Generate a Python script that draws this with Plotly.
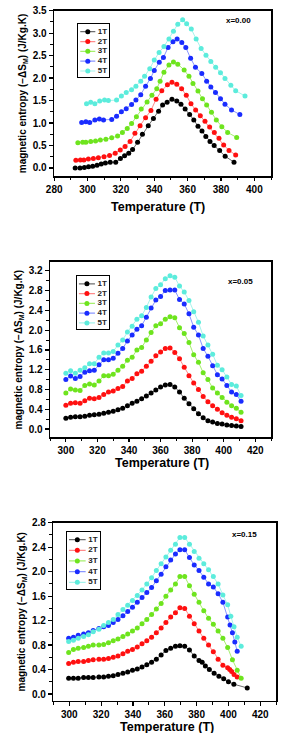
import plotly.graph_objects as go

W, H = 283, 733

series_names = ["1T", "2T", "3T", "4T", "5T"]
marker_colors = ["#000000", "#ff1010", "#6ee41e", "#1a2cff", "#5cecdc"]
line_colors = ["#6e6e6e", "#ff8a8a", "#a6ef6e", "#8a96ff", "#a6f4ec"]
panel_labels = ["x=0.00", "x=0.05", "x=0.15"]
x_title = "Temperature (T)"
y_title = "magnetic entropy (\u2212\u0394S<sub>M</sub>) (J/Kg.K)"

# ---------------- Panel 1 : x = 0.00 ----------------
p1_t_1T = [292.6, 295.5, 298.1, 300.6, 303.1, 305.7, 308.2, 310.7, 313.6, 316.9, 319.7, 322.2, 324.7, 327.0,
           330.0, 332.9, 336.4, 339.5, 342.6, 345.0, 347.7, 350.6, 353.5, 356.0, 358.5, 361.2, 363.7, 366.2,
           368.6, 370.9, 373.4, 375.9, 379.2, 382.5, 387.8]
p1_s_1T = [0.00, 0.00, 0.01, 0.03, 0.04, 0.06, 0.09, 0.11, 0.13, 0.13, 0.21, 0.27, 0.33, 0.41,
           0.57, 0.75, 0.94, 1.10, 1.26, 1.40, 1.46, 1.53, 1.49, 1.42, 1.31, 1.19, 1.07, 0.93,
           0.82, 0.70, 0.59, 0.50, 0.39, 0.26, 0.13]
p1_t_2T = [293.0, 295.7, 297.8, 300.5, 303.5, 306.5, 309.9, 313.2, 316.6, 319.6, 322.5, 325.5, 328.4, 331.5,
           334.8, 338.0, 341.1, 344.5, 347.9, 350.6, 353.5, 356.4, 359.2, 362.0, 364.8, 367.6, 370.4, 373.2,
           376.0, 378.8, 381.6, 384.8, 388.8]
p1_s_2T = [0.17, 0.18, 0.18, 0.20, 0.21, 0.23, 0.25, 0.28, 0.33, 0.40, 0.48, 0.59, 0.77, 0.94,
           1.12, 1.28, 1.53, 1.72, 1.85, 1.91, 1.86, 1.76, 1.62, 1.43, 1.29, 1.16, 1.04, 0.91,
           0.79, 0.66, 0.51, 0.39, 0.29]
p1_t_3T = [294.2, 297.1, 299.0, 301.9, 304.8, 307.7, 311.0, 314.5, 318.0, 320.9, 323.8, 326.4, 329.3, 332.2,
           335.7, 338.6, 341.5, 343.5, 345.8, 348.8, 351.5, 354.1, 357.9, 360.8, 363.2, 366.2, 368.9, 371.4,
           374.3, 377.2, 380.5, 384.0, 389.4]
p1_s_3T = [0.56, 0.57, 0.57, 0.59, 0.60, 0.62, 0.64, 0.67, 0.71, 0.79, 0.88, 0.99, 1.14, 1.31,
           1.47, 1.62, 1.76, 1.93, 2.13, 2.29, 2.36, 2.31, 2.18, 2.04, 1.88, 1.71, 1.54, 1.40,
           1.24, 1.07, 0.92, 0.79, 0.68]
p1_t_4T = [296.5, 299.0, 301.3, 304.4, 307.1, 309.6, 314.5, 317.4, 320.3, 323.2, 326.4, 329.0, 331.9, 334.8,
           337.7, 340.0, 343.0, 345.5, 348.3, 351.2, 353.7, 356.5, 358.9, 361.8, 364.7, 368.5, 371.4, 373.9,
           376.7, 379.7, 382.4, 386.3, 391.3]
p1_s_4T = [1.01, 1.03, 1.01, 1.07, 1.09, 1.07, 1.08, 1.15, 1.25, 1.32, 1.41, 1.51, 1.63, 1.82,
           1.99, 2.17, 2.35, 2.46, 2.68, 2.81, 2.87, 2.79, 2.68, 2.44, 2.24, 2.10, 1.93, 1.80,
           1.68, 1.54, 1.42, 1.29, 1.19]
p1_t_5T = [299.4, 301.9, 304.4, 307.3, 310.2, 312.5, 317.4, 320.3, 323.2, 326.4, 329.0, 331.9, 334.2, 337.3,
           340.0, 342.9, 345.8, 348.8, 351.5, 354.1, 357.0, 359.4, 362.2, 365.1, 368.1, 371.0, 373.9, 376.8,
           379.7, 382.4, 385.9, 388.8, 394.4]
p1_s_5T = [1.43, 1.46, 1.43, 1.49, 1.51, 1.50, 1.51, 1.60, 1.68, 1.74, 1.82, 1.93, 2.04, 2.21,
           2.40, 2.57, 2.70, 2.87, 3.04, 3.20, 3.30, 3.21, 3.09, 2.87, 2.66, 2.51, 2.37, 2.24,
           2.12, 1.99, 1.84, 1.72, 1.60]

# ---------------- Panel 2 : x = 0.05 ----------------
p2_t = [300, 303, 306, 309, 312, 315, 318, 321, 324, 327, 330, 333, 336, 339, 342, 345, 348, 351, 354,
        357, 360, 363, 366, 369, 372, 375, 378, 381, 384, 387, 390, 393, 396, 399, 402, 405, 408, 411]
p2_s_1T = [0.22, 0.24, 0.25, 0.25, 0.26, 0.28, 0.29, 0.30, 0.32, 0.34, 0.36, 0.39, 0.42, 0.47, 0.52, 0.56,
           0.61, 0.67, 0.73, 0.79, 0.85, 0.89, 0.90, 0.85, 0.75, 0.62, 0.51, 0.41, 0.31, 0.23, 0.17, 0.14,
           0.11, 0.10, 0.08, 0.07, 0.06, 0.05]
p2_s_2T = [0.48, 0.52, 0.53, 0.52, 0.57, 0.62, 0.61, 0.64, 0.70, 0.75, 0.77, 0.82, 0.86, 0.97, 1.02, 1.12,
           1.17, 1.27, 1.37, 1.48, 1.56, 1.63, 1.64, 1.55, 1.42, 1.25, 1.08, 0.93, 0.80, 0.66, 0.55, 0.47,
           0.40, 0.33, 0.28, 0.24, 0.21, 0.17]
p2_s_3T = [0.73, 0.81, 0.79, 0.78, 0.88, 0.91, 0.89, 0.97, 1.08, 1.08, 1.11, 1.19, 1.27, 1.39, 1.45, 1.60,
           1.65, 1.80, 1.95, 2.09, 2.13, 2.22, 2.27, 2.25, 2.05, 1.93, 1.75, 1.50, 1.35, 1.14, 1.00, 0.83,
           0.73, 0.64, 0.54, 0.47, 0.42, 0.34]
p2_s_4T = [1.00, 1.07, 1.02, 1.06, 1.15, 1.18, 1.19, 1.30, 1.40, 1.40, 1.43, 1.53, 1.63, 1.78, 1.90, 2.02,
           2.09, 2.26, 2.45, 2.61, 2.68, 2.80, 2.81, 2.81, 2.62, 2.53, 2.33, 2.06, 1.90, 1.63, 1.47, 1.28,
           1.10, 1.01, 0.88, 0.75, 0.70, 0.56]
p2_s_5T = [1.13, 1.18, 1.13, 1.19, 1.24, 1.32, 1.32, 1.45, 1.54, 1.54, 1.57, 1.70, 1.80, 1.96, 2.08, 2.22,
           2.29, 2.46, 2.67, 2.84, 2.92, 3.04, 3.10, 3.07, 2.89, 2.77, 2.60, 2.37, 2.16, 1.88, 1.70, 1.51,
           1.29, 1.20, 1.05, 0.90, 0.87, 0.68]

# ---------------- Panel 3 : x = 0.15 ----------------
p3_t_1T = [299.6, 302.6, 305.6, 309.0, 312.0, 315.0, 318.6, 321.6, 324.6, 327.6, 330.6, 333.7, 336.7, 339.7,
           342.7, 345.7, 348.7, 351.7, 354.7, 357.7, 360.7, 363.7, 366.7, 369.5, 372.5, 375.5, 378.5, 381.5,
           383.5, 385.5, 388.0, 391.0, 394.0, 397.0, 400.0, 403.4, 411.8]
p3_s_1T = [0.26, 0.26, 0.26, 0.27, 0.27, 0.27, 0.28, 0.28, 0.29, 0.30, 0.32, 0.34, 0.36, 0.39,
           0.41, 0.44, 0.48, 0.52, 0.57, 0.64, 0.71, 0.75, 0.78, 0.79, 0.78, 0.72, 0.62, 0.55,
           0.52, 0.46, 0.40, 0.34, 0.29, 0.25, 0.20, 0.16, 0.10]
p3_t_2T = [299.6, 302.6, 305.6, 309.0, 312.0, 315.0, 318.6, 321.6, 324.6, 327.6, 330.6, 333.7, 336.7, 339.7,
           342.7, 345.7, 348.7, 351.7, 354.7, 357.7, 360.7, 363.7, 366.7, 369.5, 372.5, 375.5, 378.5, 381.5,
           384.5, 387.5, 390.5, 393.5, 396.5, 399.5, 400.8, 402.0, 403.5, 405.5]
p3_s_2T = [0.50, 0.52, 0.53, 0.53, 0.55, 0.56, 0.57, 0.57, 0.58, 0.60, 0.62, 0.66, 0.70, 0.73,
           0.77, 0.82, 0.87, 0.93, 1.00, 1.08, 1.17, 1.26, 1.33, 1.41, 1.40, 1.27, 1.15, 1.03,
           0.91, 0.80, 0.69, 0.57, 0.47, 0.43, 0.40, 0.37, 0.32, 0.28]
p3_t_3T = [299.6, 302.6, 305.6, 309.0, 312.0, 315.0, 318.6, 321.6, 324.6, 327.6, 330.6, 333.7, 336.7, 339.7,
           342.7, 345.7, 348.7, 351.7, 354.7, 357.7, 360.7, 363.7, 366.7, 369.5, 372.5, 375.5, 378.5, 381.5,
           384.5, 387.5, 390.5, 393.5, 396.5, 399.5, 402.5, 405.5, 408.0]
p3_s_3T = [0.68, 0.73, 0.75, 0.76, 0.78, 0.80, 0.80, 0.81, 0.84, 0.87, 0.90, 0.94, 0.98, 1.03,
           1.08, 1.15, 1.22, 1.30, 1.39, 1.48, 1.60, 1.70, 1.80, 1.92, 1.92, 1.77, 1.63, 1.50,
           1.36, 1.24, 1.14, 1.03, 0.91, 0.76, 0.56, 0.39, 0.26]
p3_t_4T = [299.6, 302.6, 305.6, 309.0, 312.0, 315.0, 318.6, 321.6, 324.6, 327.6, 330.6, 333.7, 336.7, 339.7,
           342.7, 345.7, 348.7, 351.7, 354.7, 357.7, 360.7, 363.7, 366.7, 369.5, 372.5, 375.5, 378.5, 381.5,
           384.5, 387.5, 390.5, 393.5, 396.5, 399.5, 401.0, 402.5, 404.0, 405.5]
p3_s_4T = [0.91, 0.93, 0.96, 0.98, 1.00, 1.04, 1.07, 1.10, 1.12, 1.17, 1.22, 1.28, 1.35, 1.42,
           1.50, 1.58, 1.66, 1.74, 1.85, 1.96, 2.08, 2.19, 2.29, 2.36, 2.36, 2.23, 2.11, 2.02,
           1.91, 1.80, 1.75, 1.64, 1.50, 1.26, 1.13, 1.00, 0.85, 0.70]
p3_t_5T = [299.6, 302.6, 305.6, 309.0, 312.0, 315.0, 318.6, 321.6, 324.6, 327.6, 330.6, 333.7, 336.7, 339.7,
           342.7, 345.7, 348.7, 351.7, 354.7, 357.7, 360.7, 363.7, 366.7, 369.5, 372.5, 375.5, 378.5, 381.5,
           384.5, 387.5, 390.5, 393.5, 396.5, 399.5, 401.5, 403.5, 405.5, 408.0]
p3_s_5T = [0.86, 0.88, 0.91, 0.94, 0.97, 1.02, 1.06, 1.12, 1.17, 1.22, 1.30, 1.38, 1.45, 1.53,
           1.61, 1.70, 1.80, 1.90, 2.02, 2.13, 2.24, 2.35, 2.45, 2.56, 2.56, 2.45, 2.33, 2.22,
           2.13, 2.03, 1.92, 1.80, 1.62, 1.46, 1.27, 1.10, 0.93, 0.78]

panels = [
    dict(x=[p1_t_1T, p1_t_2T, p1_t_3T, p1_t_4T, p1_t_5T],
         y=[p1_s_1T, p1_s_2T, p1_s_3T, p1_s_4T, p1_s_5T]),
    dict(x=[p2_t] * 5,
         y=[p2_s_1T, p2_s_2T, p2_s_3T, p2_s_4T, p2_s_5T]),
    dict(x=[p3_t_1T, p3_t_2T, p3_t_3T, p3_t_4T, p3_t_5T],
         y=[p3_s_1T, p3_s_2T, p3_s_3T, p3_s_4T, p3_s_5T]),
]

# layout geometry (pixels)
frames = [  # left, right, top, bottom
    (47.5, 270.7, 4.7, 171.7),
    (43.3, 270.7, 258.0, 435.0),
    (46.7, 276.0, 521.0, 700.5),
]
xranges = [[280, 410], [290, 430], [290, 430]]
yranges = [[-0.185, 3.5], [-0.17, 3.38], [-0.11, 2.8]]
ydticks = [0.5, 0.4, 0.4]
legend_boxes = [  # left, right, top, bottom
    (72.5, 103.5, 18.5, 71.5),
    (71.0, 104.0, 272.7, 325.5),
    (60.7, 95.0, 530.0, 587.5),
]
label_pos = [(237, 14.5), (239, 278), (243.5, 533)]
xtitle_pos = [(154, 203), (158, 461), (164, 726.5)]

FONT = "Liberation Sans, Arial, sans-serif"


def xd(px):
    return px / W


def yd(px):
    return 1 - px / H


fig = go.Figure()
layout = dict(width=W, height=H, margin=dict(l=0, r=0, t=0, b=0),
              paper_bgcolor="white", plot_bgcolor="white", showlegend=False,
              font=dict(family=FONT, color="black"))
annotations = []

for p in range(3):
    ax = p + 1
    xa = "x" if ax == 1 else f"x{ax}"
    ya = "y" if ax == 1 else f"y{ax}"
    for i in range(5):
        fig.add_trace(go.Scatter(
            x=panels[p]["x"][i], y=panels[p]["y"][i], mode="lines+markers",
            name=series_names[i], xaxis=xa, yaxis=ya,
            line=dict(color=line_colors[i], width=1),
            marker=dict(color=marker_colors[i], size=5, line=dict(width=0)),
        ))
    l, r, t, b = frames[p]
    xkey = "xaxis" if ax == 1 else f"xaxis{ax}"
    ykey = "yaxis" if ax == 1 else f"yaxis{ax}"
    layout[xkey] = dict(
        domain=[xd(l), xd(r)], range=xranges[p], anchor=ya,
        showline=True, mirror=True, linecolor="black", linewidth=1.5,
        showgrid=False, zeroline=False,
        ticks="outside", ticklen=3.5, tickwidth=1.2, tickcolor="black", dtick=20,
        minor=dict(dtick=10, ticks="outside", ticklen=2.5, tickwidth=1, tickcolor="black"),
        tickfont=dict(size=10, family=FONT, weight="bold"),
    )
    layout[ykey] = dict(
        domain=[yd(b), yd(t)], range=yranges[p], anchor=xa,
        showline=True, mirror=True, linecolor="black", linewidth=1.5,
        showgrid=False, zeroline=False,
        ticks="outside", ticklen=4, tickwidth=1.2, tickcolor="black", dtick=ydticks[p],
        tickformat=".1f",
        minor=dict(dtick=ydticks[p] / 2, ticks="outside", ticklen=2.5, tickwidth=1, tickcolor="black"),
        tickfont=dict(size=10, family=FONT, weight="bold"),
        title=dict(text=y_title, font=dict(size=10, family=FONT, weight="bold"), standoff=4),
    )
    # x-axis title
    tx, ty = xtitle_pos[p]
    annotations.append(dict(text=x_title, x=xd(tx), y=yd(ty), xref="paper", yref="paper",
                            showarrow=False, xanchor="center", yanchor="middle",
                            font=dict(size=12.5, family=FONT, weight="bold", color="black")))
    # panel label
    lx, ly = label_pos[p]
    annotations.append(dict(text=panel_labels[p], x=xd(lx), y=yd(ly), xref="paper", yref="paper",
                            showarrow=False, xanchor="center", yanchor="middle",
                            font=dict(size=8, family=FONT, weight="bold", color="black")))

    # custom legend inset
    lax = ax + 3
    lxa, lya = f"x{lax}", f"y{lax}"
    ll, lr, lt, lb = legend_boxes[p]
    layout[f"xaxis{lax}"] = dict(domain=[xd(ll), xd(lr)], range=[0, 1], anchor=lya,
                                 showline=True, mirror=True, linecolor="black", linewidth=1,
                                 showgrid=False, zeroline=False, showticklabels=False, ticks="",
                                 fixedrange=True)
    layout[f"yaxis{lax}"] = dict(domain=[yd(lb), yd(lt)], range=[5.6, 0.25], anchor=lxa,
                                 showline=True, mirror=True, linecolor="black", linewidth=1,
                                 showgrid=False, zeroline=False, showticklabels=False, ticks="",
                                 fixedrange=True)
    for i in range(5):
        row = i + 1
        fig.add_trace(go.Scatter(x=[0.06, 0.56], y=[row, row], mode="lines", xaxis=lxa, yaxis=lya,
                                 line=dict(color=line_colors[i], width=1.2), hoverinfo="skip"))
        fig.add_trace(go.Scatter(x=[0.31], y=[row], mode="markers", xaxis=lxa, yaxis=lya,
                                 marker=dict(color=marker_colors[i], size=5), hoverinfo="skip"))
        fig.add_trace(go.Scatter(x=[0.64], y=[row], mode="text", text=[series_names[i]],
                                 textposition="middle right", xaxis=lxa, yaxis=lya,
                                 textfont=dict(size=8, family=FONT, weight="bold", color="#222222"),
                                 hoverinfo="skip"))

layout["annotations"] = annotations
fig.update_layout(**layout)
fig.write_html("out.html",
               config={"displayModeBar": False, "staticPlot": True},
               post_script="document.body.style.margin='0';document.body.style.padding='0';"
                           "document.documentElement.style.margin='0';")
